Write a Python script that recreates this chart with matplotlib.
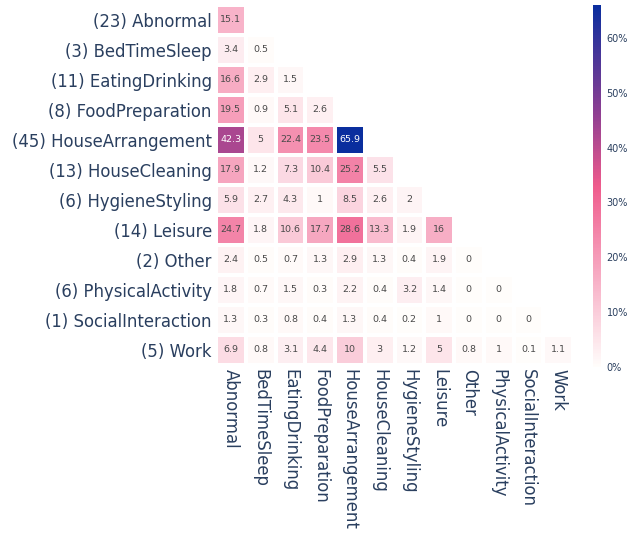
import numpy as np
import matplotlib
matplotlib.use("Agg")
import matplotlib.pyplot as plt
from matplotlib.colors import LinearSegmentedColormap

activities = ["Abnormal", "BedTimeSleep", "EatingDrinking", "FoodPreparation",
              "HouseArrangement", "HouseCleaning", "HygieneStyling", "Leisure",
              "Other", "PhysicalActivity", "SocialInteraction", "Work"]
counts = [23, 3, 11, 8, 45, 13, 6, 14, 2, 6, 1, 5]

# lower triangle, row by row (percent)
rows = [
    [15.1],
    [3.4, 0.5],
    [16.6, 2.9, 1.5],
    [19.5, 0.9, 5.1, 2.6],
    [42.3, 5, 22.4, 23.5, 65.9],
    [17.9, 1.2, 7.3, 10.4, 25.2, 5.5],
    [5.9, 2.7, 4.3, 1, 8.5, 2.6, 2],
    [24.7, 1.8, 10.6, 17.7, 28.6, 13.3, 1.9, 16],
    [2.4, 0.5, 0.7, 1.3, 2.9, 1.3, 0.4, 1.9, 0],
    [1.8, 0.7, 1.5, 0.3, 2.2, 0.4, 3.2, 1.4, 0, 0],
    [1.3, 0.3, 0.8, 0.4, 1.3, 0.4, 0.2, 1, 0, 0, 0],
    [6.9, 0.8, 3.1, 4.4, 10, 3, 1.2, 5, 0.8, 1, 0.1, 1.1],
]

n = len(activities)
z = np.full((n, n), np.nan)
for i, r in enumerate(rows):
    z[i, :len(r)] = r

plt.rcParams['font.family'] = ['DejaVu Sans']
txt = '#2a3f5f'

cmap = LinearSegmentedColormap.from_list(
    "pinkblue", [(0, "#fffdfb"), (0.5, "#ef5b8c"),
                 (0.7, "#8f3f92"), (1.0, "#0a2e9e")])
zmax = 66.0

fig = plt.figure(figsize=(6.36, 5.35), dpi=100)
ax = fig.add_axes([216/636, 1 - 365/535, 357/636, 360/535])
m = np.ma.masked_invalid(z)
mesh = ax.pcolormesh(np.arange(n + 1), np.arange(n + 1), m, cmap=cmap,
                     vmin=0, vmax=zmax, edgecolors='white', linewidth=1.5)
ax.set_xlim(0, n)
ax.set_ylim(n, 0)

for i in range(n):
    for j in range(n):
        v = z[i, j]
        if np.isnan(v):
            continue
        col = 'white' if v > 35 else '#4a4a4a'
        ax.text(j + 0.5, i + 0.5, f"{v:g}", ha='center', va='center',
                fontsize=6.8, color=col)

ax.set_xticks(np.arange(n) + 0.5)
ax.set_xticklabels(activities, rotation=-90, fontsize=11.9, color=txt)
ax.set_yticks(np.arange(n) + 0.5)
ax.set_yticklabels([f"({c}) {a}" for c, a in zip(counts, activities)],
                   fontsize=11.9, color=txt)
ax.tick_params(length=0, pad=3)
for s in ax.spines.values():
    s.set_visible(False)

cax = fig.add_axes([593/636, 1 - 367/535, 8/636, 362/535])
cb = fig.colorbar(mesh, cax=cax)
cb.set_ticks(np.arange(0, 61, 10))
cb.set_ticklabels([f"{t}%" for t in range(0, 61, 10)])
cb.ax.tick_params(length=0, labelsize=7, labelcolor=txt, pad=4)
cb.outline.set_visible(False)

fig.savefig("out.png", dpi=100)
